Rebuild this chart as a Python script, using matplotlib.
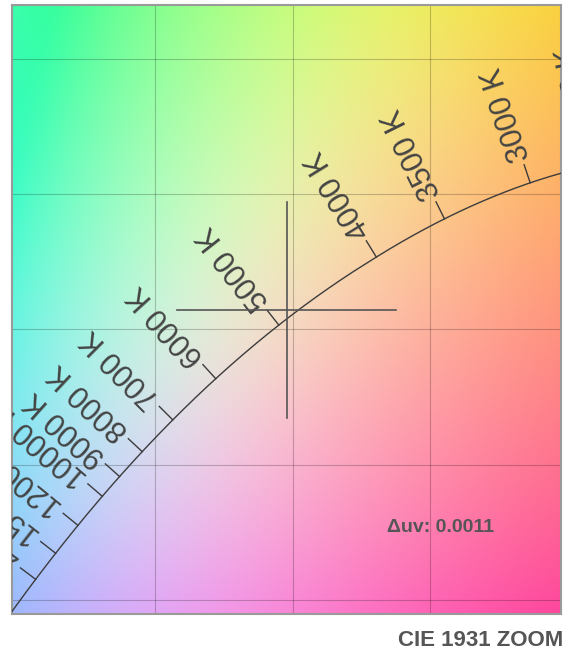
import numpy as np
import matplotlib
matplotlib.use("Agg")
import matplotlib.pyplot as plt

plt.rcParams["font.family"] = ["Liberation Sans", "DejaVu Sans"]

# ---- data -------------------------------------------------------------
cct_labels = [2700, 3000, 3500, 4000, 5000, 6000, 7000, 8000, 9000, 10000, 12000, 15000, 20000]
point_x = 0.3478
point_y = 0.3572
delta_uv = 0.0011
x_limits = [0.2478, 0.4478]
y_limits = [0.2448, 0.4699]
grid_x = [0.30, 0.35, 0.40]
grid_y = [0.25, 0.30, 0.35, 0.40, 0.45]
cross_half = 0.04
title_text = "CIE 1931 ZOOM"

TEXT_GREY = "#555555"
LINE_GREY = "#3c3c3c"


def planck_xy(T):
    """Planckian locus in CIE 1931 xy (Kim et al. cubic approximation)."""
    T = np.asarray(T, dtype=float)
    x = np.where(
        T <= 4000,
        -0.2661239e9 / T**3 - 0.2343589e6 / T**2 + 0.8776956e3 / T + 0.179910,
        -3.0258469e9 / T**3 + 2.1070379e6 / T**2 + 0.2226347e3 / T + 0.240390,
    )
    y = np.where(
        T <= 2222,
        -1.1063814 * x**3 - 1.34811020 * x**2 + 2.18555832 * x - 0.20219683,
        np.where(
            T <= 4000,
            -0.9549476 * x**3 - 1.37418593 * x**2 + 2.09137015 * x - 0.16748867,
            3.0817580 * x**3 - 5.87338670 * x**2 + 3.75112997 * x - 0.37001483,
        ),
    )
    return x, y


def xy_to_srgb(x, y):
    """Chromaticity -> displayable sRGB (out-of-gamut colours softly desaturated)."""
    X = x / y
    Z = (1 - x - y) / y
    Y = np.ones_like(x)
    M = np.array([[3.2406, -1.5372, -0.4986],
                  [-0.9689, 1.8758, 0.0415],
                  [0.0557, -0.2040, 1.0570]])
    rgb = np.stack([X, Y, Z], axis=-1) @ M.T
    rgb = rgb / rgb.max(axis=-1, keepdims=True)
    m = rgb.min(axis=-1, keepdims=True)
    rgb = rgb + 0.7 * (-m + np.sqrt(m**2 + 0.004))
    rgb = rgb / rgb.max(axis=-1, keepdims=True)
    # soft brightness normalisation: saturated hues stay bright, neutrals a bit dimmer
    rgb = rgb / (np.sum(rgb**4, axis=-1, keepdims=True) ** 0.25)
    rgb = np.clip(rgb, 0, 1)
    rgb = np.where(rgb <= 0.0031308, 12.92 * rgb, 1.055 * rgb ** (1 / 2.4) - 0.055)
    return np.clip(rgb, 0, 1)


# ---- figure -----------------------------------------------------------
W, H, DPI = 571, 658, 100
fig = plt.figure(figsize=(W / DPI, H / DPI), dpi=DPI)
ax = fig.add_axes([12 / W, 1 - 614 / H, (561 - 12) / W, (614 - 5) / H])
ax.set_xlim(x_limits)
ax.set_ylim(y_limits)

# chromaticity background
gx = np.linspace(x_limits[0], x_limits[1], 400)
gy = np.linspace(y_limits[0], y_limits[1], 400)
GX, GY = np.meshgrid(gx, gy)
ax.imshow(xy_to_srgb(GX, GY), extent=[*x_limits, *y_limits], origin="lower",
          aspect="auto", interpolation="bilinear", zorder=0)

# grid
for gxv in grid_x:
    ax.axvline(gxv, color="black", alpha=0.22, lw=0.8, zorder=1)
for gyv in grid_y:
    ax.axhline(gyv, color="black", alpha=0.22, lw=0.8, zorder=1)

# Planckian locus
T_curve = np.geomspace(1667, 100000, 1500)
lx, ly = planck_xy(T_curve)
ax.plot(lx, ly, color=LINE_GREY, lw=1.0, zorder=3)

# CCT ticks and rotated labels along the outward normal
fig.canvas.draw()
to_disp = ax.transData
to_data = ax.transData.inverted()
tick_len = 19.0
label_gap = 24.0
for T in cct_labels:
    p = np.array(planck_xy(T)).ravel()
    q = np.array(planck_xy(T * 0.99)).ravel()
    pd = to_disp.transform(p)
    qd = to_disp.transform(q)
    t = qd - pd
    t /= np.hypot(*t)
    n = np.array([-t[1], t[0]])
    if n[1] < 0:
        n = -n
    tick_end = to_data.transform(pd + n * tick_len)
    ax.plot([p[0], tick_end[0]], [p[1], tick_end[1]], color=LINE_GREY, lw=1.0, zorder=3)
    lab = to_data.transform(pd + n * label_gap)
    ang = np.degrees(np.arctan2(n[1], n[0]))
    ax.text(lab[0], lab[1], f"{T} K", rotation=ang, rotation_mode="anchor",
            ha="left", va="center", fontsize=22, color="#444444",
            clip_on=True, zorder=4)

# crosshair on the measured chromaticity
ax.plot([point_x - cross_half, point_x + cross_half], [point_y, point_y],
        color=TEXT_GREY, lw=1.2, zorder=5)
ax.plot([point_x, point_x], [point_y - cross_half, point_y + cross_half],
        color=TEXT_GREY, lw=1.2, zorder=5)

ax.text(0.78, 0.142, f"\u0394uv: {delta_uv:.4f}", transform=ax.transAxes,
        ha="center", va="center", fontsize=14, fontweight="bold", color=TEXT_GREY, zorder=6)

ax.set_xticks([])
ax.set_yticks([])
for s in ax.spines.values():
    s.set_color("#9a9a9a")
    s.set_linewidth(1.5)

fig.text(563 / W, 1 - 641 / H, title_text, ha="right", va="center",
         fontsize=16, fontweight="bold", color=TEXT_GREY)

fig.savefig("out.png", dpi=DPI)
